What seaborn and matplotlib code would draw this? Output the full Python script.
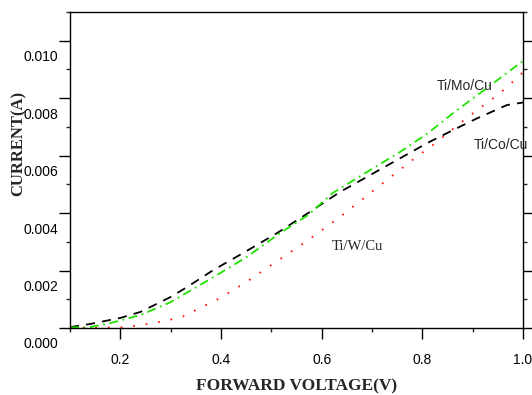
import matplotlib
matplotlib.use('Agg')
import matplotlib.pyplot as plt
import matplotlib.transforms as mtransforms
from matplotlib.ticker import MultipleLocator
import pandas as pd
import seaborn as sns

# Ti/Co/Cu (black dashed)
co_v = [0.10, 0.14, 0.20, 0.24, 0.30, 0.333, 0.385, 0.444, 0.511, 0.573, 0.636,
        0.696, 0.756, 0.809, 0.861, 0.909, 0.968, 1.00]
co_i = [0.00003, 0.00014, 0.00035, 0.00056, 0.00108, 0.00143, 0.00202, 0.00261,
        0.00330, 0.00400, 0.00473, 0.00532, 0.00591, 0.00643, 0.00689, 0.00730,
        0.00776, 0.00785]

# Ti/Mo/Cu (green dash-dot)
mo_v = [0.10, 0.14, 0.18, 0.24, 0.30, 0.334, 0.385, 0.451, 0.517, 0.573, 0.622,
        0.690, 0.755, 0.811, 0.861, 0.928, 0.994, 1.00]
mo_i = [0.00002, 0.00003, 0.00017, 0.00045, 0.00090, 0.00125, 0.00177, 0.00247,
        0.00330, 0.00393, 0.00470, 0.00543, 0.00612, 0.00678, 0.00748, 0.00835,
        0.00922, 0.00929]

# Ti/W/Cu (red dotted)
w_v = [0.10, 0.12, 0.213, 0.265, 0.305, 0.322, 0.398, 0.453, 0.509, 0.565, 0.636,
       0.709, 0.785, 0.821, 0.878, 0.914, 0.954, 0.988, 1.00]
w_i = [0.0, 0.0, 0.00003, 0.00017, 0.00031, 0.00038, 0.00104, 0.00163, 0.00230,
       0.00296, 0.00386, 0.00487, 0.00591, 0.00637, 0.00717, 0.00765, 0.00817,
       0.00870, 0.00890]

df = pd.concat([
    pd.DataFrame({'V': co_v, 'I': co_i, 'sample': 'Ti/Co/Cu'}),
    pd.DataFrame({'V': mo_v, 'I': mo_i, 'sample': 'Ti/Mo/Cu'}),
    pd.DataFrame({'V': w_v, 'I': w_i, 'sample': 'Ti/W/Cu'}),
])

sns.set_style('ticks')
plt.rcParams['font.family'] = ['Liberation Sans', 'DejaVu Sans']

fig = plt.figure(figsize=(5.32, 3.95), dpi=100)
ax = fig.add_axes([70 / 532, 1 - 328 / 395, 453 / 532, 316 / 395])

palette = {'Ti/Co/Cu': 'black', 'Ti/Mo/Cu': '#1ee400', 'Ti/W/Cu': '#ff1a1a'}
dashes = {'Ti/Co/Cu': (5, 4), 'Ti/Mo/Cu': (5, 2.5, 1, 2.5), 'Ti/W/Cu': (1, 6)}
sns.lineplot(data=df, x='V', y='I', hue='sample', style='sample',
             palette=palette, dashes=dashes, linewidth=1.3, legend=False,
             sort=False, estimator=None, ax=ax)

ax.set_xlim(0.1, 1.0)
ax.set_ylim(0.0, 0.011)
ax.xaxis.set_minor_locator(MultipleLocator(0.1))
ax.yaxis.set_minor_locator(MultipleLocator(0.001))
ax.set_yticks([0.0, 0.002, 0.004, 0.006, 0.008, 0.010])
ax.set_yticklabels(['0.000', '0.002', '0.004', '0.006', '0.008', '0.010'])
ax.set_xticks([0.2, 0.4, 0.6, 0.8, 1.0])
ax.set_xticklabels(['0.2', '0.4', '0.6', '0.8', '1.0'])

for s in ax.spines.values():
    s.set_linewidth(1.0)
    s.set_color('black')

ax.tick_params(axis='both', which='major', direction='out', length=8, width=1,
               labelsize=10, colors='black')
ax.tick_params(axis='both', which='minor', direction='out', length=3, width=1)
ax.tick_params(axis='x', which='major', pad=10)
ax.tick_params(axis='y', which='both', right=True)
ax.tick_params(axis='y', which='major', pad=0.5)

# tick labels sit a little below their ticks in the original
offset = mtransforms.ScaledTranslation(0, -15 / 100, fig.dpi_scale_trans)
for lab in ax.get_yticklabels():
    lab.set_transform(lab.get_transform() + offset)

ax.set_xlabel('FORWARD VOLTAGE(V)', fontfamily='Liberation Serif',
              fontweight='bold', fontsize=12.5, labelpad=8)
ax.set_ylabel('CURRENT(A)', fontfamily='Liberation Serif',
              fontweight='bold', fontsize=12)
ax.yaxis.set_label_coords(-0.095, 0.585)

ax.text(0.885, 0.00842, 'Ti/Mo/Cu', fontsize=10, ha='center', va='center')
ax.text(0.956, 0.00637, 'Ti/Co/Cu', fontsize=10, ha='center', va='center',
        clip_on=False)
ax.text(0.671, 0.00282, 'Ti/W/Cu', fontsize=10.5, fontfamily='Liberation Serif',
        ha='center', va='center')

fig.savefig('out.png', dpi=100)
